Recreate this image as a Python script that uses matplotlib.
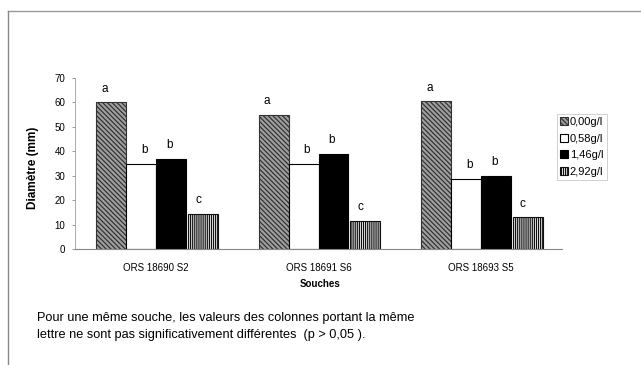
import matplotlib
matplotlib.use("Agg")
import matplotlib.pyplot as plt
import numpy as np
from matplotlib.lines import Line2D
from matplotlib.patches import Patch

plt.rcParams['font.family'] = ['Liberation Sans', 'DejaVu Sans']
plt.rcParams['hatch.linewidth'] = 0.9

categories = ["ORS 18690 S2", "ORS 18691 S6", "ORS 18693 S5"]
series_names = ["0,00g/l", "0,58g/l", "1,46g/l", "2,92g/l"]
values = {
    "0,00g/l": [60, 55, 60.5],
    "0,58g/l": [35, 35, 28.7],
    "1,46g/l": [37, 39, 30],
    "2,92g/l": [14.5, 11.5, 13],
}
letters = {
    "0,00g/l": ["a", "a", "a"],
    "0,58g/l": ["b", "b", "b"],
    "1,46g/l": ["b", "b", "b"],
    "2,92g/l": ["c", "c", "c"],
}
yticks = [0, 10, 20, 30, 40, 50, 60, 70]

styles = [
    dict(facecolor="#a0a0a0", edgecolor="#333333", hatch="\\\\\\\\\\\\\\"),
    dict(facecolor="white", edgecolor="black", hatch=None),
    dict(facecolor="black", edgecolor="black", hatch=None),
    dict(facecolor="white", edgecolor="#111111", hatch="||||||||"),
]

fig = plt.figure(figsize=(6.41, 3.65), dpi=100)
ax = fig.add_axes([75/641, 1-249/365, (562-75)/641, (249-78)/365])

x = np.arange(len(categories))
w = 0.184
offsets = [-1.5*w, -0.5*w, 0.5*w, 1.5*w + 0.012]
letter_dx = [-0.04, 0.02, -0.01, -0.03]
for i, name in enumerate(series_names):
    st = styles[i]
    ax.bar(x + offsets[i], values[name], width=w, facecolor=st["facecolor"],
           edgecolor=st["edgecolor"], hatch=st["hatch"], linewidth=0.8)
    for j in range(len(categories)):
        ax.text(x[j] + offsets[i] + letter_dx[i], values[name][j] + 5.5,
                letters[name][j], ha="center", va="center", fontsize=8.5)

ax.set_xlim(-0.5, 2.5)
ax.set_ylim(0, 70)
ax.set_yticks(yticks)
ax.set_yticklabels([str(t) for t in yticks], fontsize=7)
ax.set_xticks(x)
ax.set_xticklabels(categories, fontsize=7)
ax.tick_params(axis="x", length=0, pad=10)
ax.tick_params(axis="y", length=2, width=0.6, color="#888888", pad=5)
for s in ["top", "right"]:
    ax.spines[s].set_visible(False)
ax.spines["left"].set_color("#aaaaaa")
ax.spines["left"].set_linewidth(0.7)
ax.spines["bottom"].set_color("#888888")
ax.spines["bottom"].set_linewidth(0.8)

fig.text(33/641, 1-168/365, "Diamètre (mm)", rotation=90, ha="center", va="center",
         fontsize=8.5, fontweight="bold")
fig.text(320/641, 1-284/365, "Souches", ha="center", va="center",
         fontsize=7, fontweight="bold")

handles = [Patch(facecolor=styles[i]["facecolor"], edgecolor=styles[i]["edgecolor"],
                 hatch=styles[i]["hatch"], linewidth=0.8) for i in range(4)]
leg = fig.legend(handles, series_names, loc="upper left",
                 bbox_to_anchor=(551/641, 1-108/365), fontsize=8,
                 handlelength=0.7, handleheight=0.7, handletextpad=0.2,
                 labelspacing=0.6, borderpad=0.3, frameon=True, fancybox=False)
leg.get_frame().set_edgecolor("#bbbbbb")
leg.get_frame().set_linewidth(0.6)

fig.text(37/641, 1-318/365,
         "Pour une même souche, les valeurs des colonnes portant la même",
         ha="left", va="center", fontsize=9.2)
fig.text(37/641, 1-335/365,
         "lettre ne sont pas significativement différentes  (p > 0,05 ).",
         ha="left", va="center", fontsize=9.2)

# outer frame
fig.add_artist(Line2D([8/641, 1.0], [1-11/365, 1-11/365], transform=fig.transFigure,
                      color="#999999", linewidth=1.0))
fig.add_artist(Line2D([8/641, 8/641], [0, 1-11/365], transform=fig.transFigure,
                      color="#888888", linewidth=1.0))

fig.savefig("out.png", dpi=100)
